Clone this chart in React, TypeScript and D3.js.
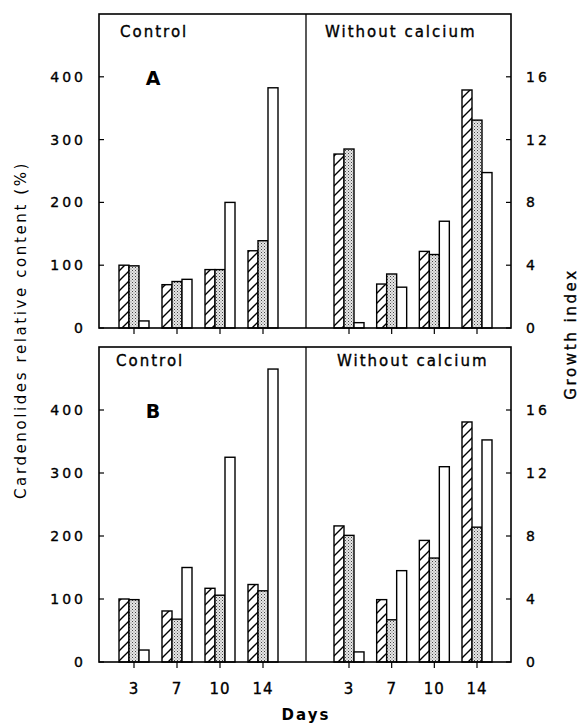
import React from 'react';
import * as d3 from 'd3';

// days after transfer
const days = [3, 7, 10, 14];

// panel A
const aCtrlHatched = [100, 69, 93, 123];
const aCtrlDotted = [99, 74, 93, 139];
const aCtrlGrowth = [0.45, 3.1, 8.0, 15.3];
const aNoCaHatched = [277, 70, 122, 379];
const aNoCaDotted = [285, 86, 117, 331];
const aNoCaGrowth = [0.34, 2.6, 6.8, 9.9];

// panel B
const bCtrlHatched = [100, 81, 117, 123];
const bCtrlDotted = [99, 68, 106, 113];
const bCtrlGrowth = [0.76, 6.0, 13.0, 18.6];
const bNoCaHatched = [216, 99, 193, 381];
const bNoCaDotted = [201, 67, 165, 214];
const bNoCaGrowth = [0.64, 5.8, 12.4, 14.1];

const leftTicks = [0, 100, 200, 300, 400];
const rightTicks = [0, 4, 8, 12, 16];

const font = '"DejaVu Sans", "Liberation Sans", Arial, sans-serif';

const X0 = 99, XMID = 306, X1 = 511;

const panels = [
  {
    letter: 'A', top: 14, bottom: 328,
    ctrl: { h: aCtrlHatched, d: aCtrlDotted, g: aCtrlGrowth },
    noCa: { h: aNoCaHatched, d: aNoCaDotted, g: aNoCaGrowth },
    ctrlTitle: { x: 120, dy: 23 }, noCaTitle: { x: 325, dy: 23 },
  },
  {
    letter: 'B', top: 347, bottom: 662,
    ctrl: { h: bCtrlHatched, d: bCtrlDotted, g: bCtrlGrowth },
    noCa: { h: bNoCaHatched, d: bNoCaDotted, g: bNoCaGrowth },
    ctrlTitle: { x: 116, dy: 19 }, noCaTitle: { x: 337, dy: 19 },
  },
];

const xLeft = d3.scalePoint<number>().domain(days).range([134, 263]);
const xRight = d3.scalePoint<number>().domain(days).range([349, 477]);
const inner = d3.scaleBand<string>().domain(['h', 'd', 'g']).range([-15, 15]);

const fills: Record<string, string> = { h: 'url(#hatch)', d: 'url(#dots)', g: '#fff' };

// slight stroke to get the heavier look of the printed type
const ink = { stroke: '#000', strokeWidth: 0.35 };

function Group({ x, data, y, yg }: any) {
  return (
    <g>
      {days.map((day, i) =>
        (['h', 'd', 'g'] as const).map((k) => {
          const v = data[k][i];
          const yy = k === 'g' ? yg(v) : y(v);
          return (
            <rect
              key={day + k}
              x={x(day)! + inner(k)!}
              y={yy}
              width={inner.bandwidth()}
              height={y(0) - yy}
              fill={fills[k]}
              stroke="#000"
              strokeWidth={1.4}
            />
          );
        })
      )}
    </g>
  );
}

export default function App() {
  return (
    <svg width={585} height={728} style={{ display: 'block', position: 'absolute', left: 0, top: 0, background: '#fff' }}>
      <defs>
        <pattern id="hatch" patternUnits="userSpaceOnUse" width={10} height={10}>
          <rect width={10} height={10} fill="#fff" />
          <path d="M0,10 L10,0 M-2,2 L2,-2 M8,12 L12,8" stroke="#000" strokeWidth={1.4} />
        </pattern>
        <pattern id="dots" patternUnits="userSpaceOnUse" width={3} height={3}>
          <rect width={3} height={3} fill="#e6e6e6" />
          <rect x={0} y={0} width={1} height={1} fill="#444" />
          <rect x={1.5} y={1.5} width={1} height={1} fill="#777" />
        </pattern>
      </defs>
      {panels.map((p) => {
        const y = d3.scaleLinear().domain([0, 500]).range([p.bottom, p.top]);
        const yg = d3.scaleLinear().domain([0, 20]).range([p.bottom, p.top]);
        return (
          <g key={p.letter} fontFamily={font}>
            <Group x={xLeft} data={p.ctrl} y={y} yg={yg} />
            <Group x={xRight} data={p.noCa} y={y} yg={yg} />
            <rect x={X0} y={p.top} width={X1 - X0} height={p.bottom - p.top} fill="none" stroke="#000" strokeWidth={1.6} />
            <line x1={XMID} x2={XMID} y1={p.top} y2={p.bottom} stroke="#000" strokeWidth={1.3} />
            {leftTicks.map((t) => (
              <g key={'l' + t}>
                <line x1={X0} x2={X0 + 5} y1={y(t)} y2={y(t)} stroke="#000" strokeWidth={1.2} />
                <text x={86} y={y(t)} dy="0.36em" textAnchor="end" fontSize={14} {...ink} style={{ letterSpacing: 3 }}>{t}</text>
              </g>
            ))}
            {rightTicks.map((t) => (
              <g key={'r' + t}>
                <line x1={X1 - 5} x2={X1} y1={yg(t)} y2={yg(t)} stroke="#000" strokeWidth={1.2} />
                <text x={526} y={yg(t)} dy="0.36em" textAnchor="start" fontSize={14} {...ink} style={{ letterSpacing: 3 }}>{t}</text>
              </g>
            ))}
            {days.map((d) => (
              <g key={'x' + d}>
                <line x1={xLeft(d)} x2={xLeft(d)} y1={p.bottom} y2={p.bottom + 6} stroke="#000" strokeWidth={1.2} />
                <line x1={xRight(d)} x2={xRight(d)} y1={p.bottom} y2={p.bottom + 6} stroke="#000" strokeWidth={1.2} />
              </g>
            ))}
            <text x={p.ctrlTitle.x} y={p.top + p.ctrlTitle.dy} fontSize={15} {...ink} style={{ letterSpacing: 2 }}>Control</text>
            <text x={p.noCaTitle.x} y={p.top + p.noCaTitle.dy} fontSize={15} {...ink} style={{ letterSpacing: 2 }}>Without calcium</text>
            <text x={153} y={p.top + 71} textAnchor="middle" fontSize={19} fontWeight="bold">{p.letter}</text>
          </g>
        );
      })}
      <g fontFamily={font}>
        {days.map((d) => (
          <g key={'xl' + d}>
            <text x={xLeft(d)} y={694} textAnchor="middle" fontSize={15} {...ink} style={{ letterSpacing: 1 }}>{d}</text>
            <text x={xRight(d)} y={694} textAnchor="middle" fontSize={15} {...ink} style={{ letterSpacing: 1 }}>{d}</text>
          </g>
        ))}
        <text x={306} y={720} textAnchor="middle" fontSize={15} fontWeight="bold" style={{ letterSpacing: 2 }}>Days</text>
        <text transform="translate(26,330) rotate(-90)" textAnchor="middle" fontSize={15} style={{ letterSpacing: 2.6 }}>
          Cardenolides relative content (%)
        </text>
        <text transform="translate(576,334) rotate(-90)" textAnchor="middle" fontSize={15} {...ink} style={{ letterSpacing: 2.6 }}>
          Growth index
        </text>
      </g>
    </svg>
  );
}
